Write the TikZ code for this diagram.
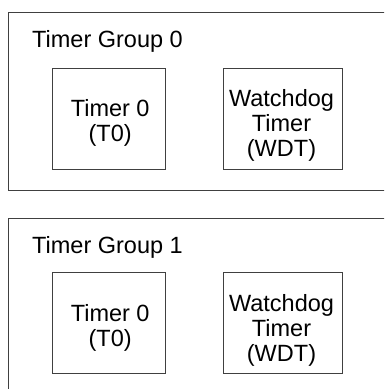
\documentclass[tikz,border=0pt]{standalone}
\usepackage{fontspec}
\setmainfont{Liberation Sans}
\usetikzlibrary{positioning}
\definecolor{framegray}{RGB}{64, 64, 64}

\begin{document}
\begin{tikzpicture}[x=1pt, y=-1pt,
    groupbox/.style={draw=framegray, line width=1pt, anchor=north west,
                     minimum width=420pt, minimum height=178pt},
    unitbox/.style={draw=framegray, line width=1pt, minimum height=101pt},
    unittext/.style={align=center, inner sep=0pt,
                     font=\fontsize{23.5}{25}\selectfont},
    grouptitle/.style={anchor=base west, inner sep=0pt,
                       font=\fontsize{23.5}{25}\selectfont}]
  \useasboundingbox[fill=white] (0,0) rectangle (384,389);
  \clip (0,0) rectangle (384,389);

  % group 0
  \node[groupbox] (grp0) at (8,12) {};
  \node[grouptitle] (grp0title) at (32,47) {Timer Group 0};
  \node[unitbox, minimum width=113pt] (tmr0a) at (108.7,118.7) {};
  \node[unitbox, minimum width=119pt] (wdta) at (282.5,118.7) {};
  \node[unittext] (tmr0atxt) at ([xshift=1.5pt, yshift=-4.5pt]tmr0a.center) {Timer 0\\(T0)};
  \node[unittext] (wdtatxt) at ([xshift=-1pt, yshift=-7pt]wdta.center) {Watchdog\\Timer\\(WDT)};

  % group 1
  \node[groupbox] (grp1) at (8,218) {};
  \node[grouptitle] (grp1title) at (32,253) {Timer Group 1};
  \node[unitbox, minimum width=113pt] (tmr0b) at (108.7,323) {};
  \node[unitbox, minimum width=119pt] (wdtb) at (282.5,323) {};
  \node[unittext] (tmr0btxt) at ([xshift=1.5pt, yshift=-4.5pt]tmr0b.center) {Timer 0\\(T0)};
  \node[unittext] (wdtbtxt) at ([xshift=-1pt, yshift=-7pt]wdtb.center) {Watchdog\\Timer\\(WDT)};
\end{tikzpicture}
\end{document}
